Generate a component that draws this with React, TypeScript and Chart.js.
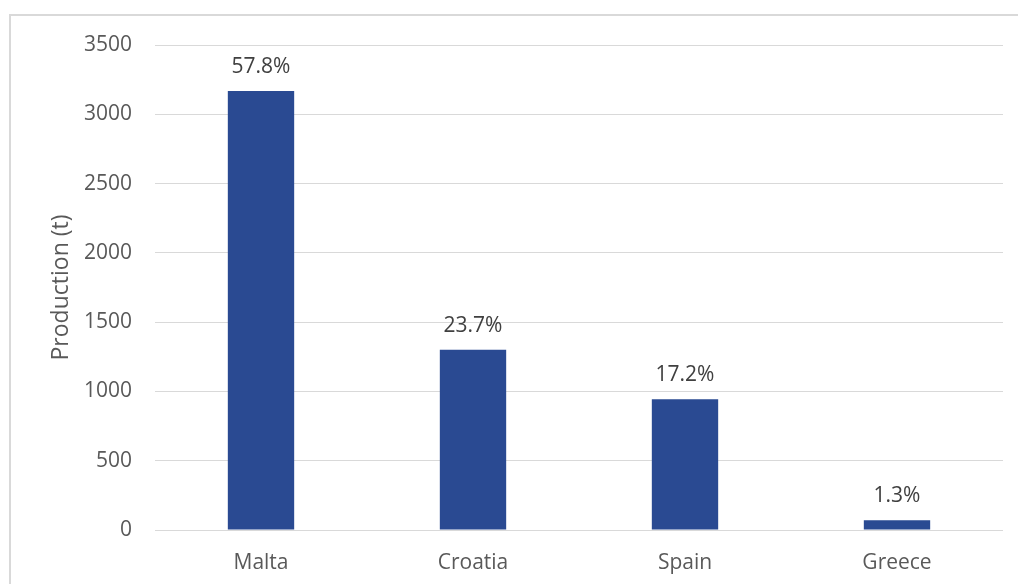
import React, { useEffect, useRef } from "react";
import { Chart, registerables } from "chart.js";

Chart.register(...registerables);

const categories = ["Malta", "Croatia", "Spain", "Greece"];
const production = [3168, 1300, 943, 71];
const shareLabels = ["57.8%", "23.7%", "17.2%", "1.3%"];
const yMin = 0;
const yMax = 3500;
const yStep = 500;
const yTitle = "Production (t)";

const FONT = "'Open Sans', 'Noto Sans', sans-serif";

const framePlugin = {
  id: "frame",
  beforeDraw(chart: any) {
    const ctx = chart.ctx;
    ctx.save();
    ctx.strokeStyle = "#d9d9d9";
    ctx.lineWidth = 2;
    ctx.beginPath();
    ctx.moveTo(10, 600);
    ctx.lineTo(10, 15);
    ctx.lineTo(1030, 15);
    ctx.stroke();
    ctx.restore();
  },
};

const shareLabelPlugin = {
  id: "shareLabels",
  afterDatasetsDraw(chart: any) {
    const ctx = chart.ctx;
    const meta = chart.getDatasetMeta(0);
    ctx.save();
    ctx.font = `21px ${FONT}`;
    ctx.fillStyle = "#404040";
    ctx.textAlign = "center";
    ctx.textBaseline = "middle";
    meta.data.forEach((bar: any, i: number) => {
      ctx.fillText(shareLabels[i], bar.x, bar.y - 24);
    });
    ctx.restore();
  },
};

export default function App() {
  const ref = useRef<HTMLCanvasElement | null>(null);

  useEffect(() => {
    if (!ref.current) return;
    const chart = new Chart(ref.current, {
      type: "bar",
      data: {
        labels: categories,
        datasets: [
          {
            data: production,
            backgroundColor: "#2a4a92",
            categoryPercentage: 1,
            barPercentage: 0.313,
          },
        ],
      },
      options: {
        responsive: false,
        animation: false,
        layout: { padding: { left: 10, top: 45, right: 15, bottom: 0 } },
        plugins: {
          legend: { display: false },
          tooltip: { enabled: false },
        },
        scales: {
          x: {
            grid: { display: false },
            border: { display: false },
            ticks: {
              color: "#595959",
              font: { family: FONT, size: 21 },
              padding: 12,
              maxRotation: 0,
            },
            afterFit(scale: any) {
              scale.height = 54;
            },
          },
          y: {
            min: yMin,
            max: yMax,
            grid: { color: "#d9d9d9", lineWidth: 1, drawTicks: false },
            border: { display: false },
            ticks: {
              stepSize: yStep,
              color: "#595959",
              font: { family: FONT, size: 21 },
              padding: 23,
              callback: (v: any) => String(v),
            },
            title: {
              display: true,
              text: yTitle,
              color: "#595959",
              font: { family: FONT, size: 23 },
              padding: { top: 38, bottom: 0 },
            },
            afterFit(scale: any) {
              scale.width = 145;
            },
          },
        },
      },
      plugins: [framePlugin, shareLabelPlugin],
    });
    return () => chart.destroy();
  }, []);

  return (
    <div style={{ position: "fixed", left: 0, top: 0, width: 1018, height: 584, overflow: "hidden", background: "#fff" }}>
      <canvas ref={ref} width={1018} height={584} style={{ display: "block" }} />
    </div>
  );
}
